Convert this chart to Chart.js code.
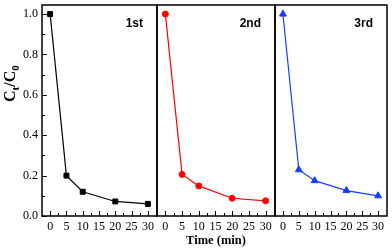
<!DOCTYPE html>
<html><head><meta charset="utf-8">
<script src="https://cdn.jsdelivr.net/npm/chart.js@4/dist/chart.umd.min.js"></script>
<style>
html,body{margin:0;padding:0;background:#fff;overflow:hidden}
#wrap{position:relative;width:392px;height:250px;background:#fff}
canvas{position:absolute;left:0;top:0}
</style></head>
<body>
<div id="wrap">
<canvas id="c1" width="392" height="250"></canvas>
<canvas id="c2" width="392" height="250"></canvas>
<canvas id="c3" width="392" height="250"></canvas>
</div>
<script>
const times = [0, 5, 10, 20, 30];
const run1 = [1.0, 0.200, 0.120, 0.072, 0.060];
const run2 = [1.0, 0.206, 0.149, 0.088, 0.075];
const run3 = [1.0, 0.229, 0.175, 0.126, 0.100];
const runLabels = ['1st', '2nd', '3rd'];
const xTicks = [0, 5, 10, 15, 20, 25, 30];
const yTicks = [0, 0.2, 0.4, 0.6, 0.8, 1.0];
const xTitle = 'Time (min)';

const SERIF = '"Liberation Serif", "Times New Roman", serif';
const SANS = '"Liberation Sans", Arial, sans-serif';

const framePlugin = {
  id: 'frame',
  afterDraw(chart, args, opts) {
    const {ctx, chartArea: a, scales} = chart;
    ctx.save();
    ctx.strokeStyle = '#000';
    ctx.lineWidth = 1.5;
    ctx.strokeRect(a.left, a.top, a.right - a.left, a.bottom - a.top);
    ctx.lineWidth = 1;
    ctx.beginPath();
    const xs = scales.x;
    const xt = xs.ticks.map(t => t.value);
    for (let i = 0; i < xt.length; i++) {
      const px = Math.round(xs.getPixelForValue(xt[i])) + 0.5;
      ctx.moveTo(px, a.bottom); ctx.lineTo(px, a.bottom - 5);
      if (i < xt.length - 1) {
        const pm = Math.round(xs.getPixelForValue((xt[i] + xt[i + 1]) / 2)) + 0.5;
        ctx.moveTo(pm, a.bottom); ctx.lineTo(pm, a.bottom - 3);
      }
    }
    if (opts.yAxis) {
      const ys = scales.y;
      const yt = ys.ticks.map(t => t.value);
      for (let i = 0; i < yt.length; i++) {
        const py = Math.round(ys.getPixelForValue(yt[i])) + 0.5;
        ctx.moveTo(a.left, py); ctx.lineTo(a.left + 5, py);
        if (i < yt.length - 1) {
          const pm = Math.round(ys.getPixelForValue((yt[i] + yt[i + 1]) / 2)) + 0.5;
          ctx.moveTo(a.left, pm); ctx.lineTo(a.left + 3, pm);
        }
      }
    }
    ctx.stroke();
    ctx.fillStyle = '#000';
    ctx.font = 'bold 12px ' + SANS;
    ctx.textAlign = 'right';
    ctx.textBaseline = 'middle';
    ctx.fillText(opts.label, a.right - 14, a.top + 18.5);
    if (opts.yAxis) {
      ctx.save();
      ctx.translate(15, 102);
      ctx.rotate(-Math.PI / 2);
      ctx.textAlign = 'left';
      ctx.textBaseline = 'alphabetic';
      const big = 'bold 16px ' + SERIF, small = 'bold 11px ' + SERIF;
      const parts = [['C', big, 0], ['t', small, 3.5], ['/', big, 0], ['C', big, 0], ['0', small, 3.5]];
      let x = 0;
      for (const [s, f, dy] of parts) {
        ctx.font = f;
        ctx.fillText(s, x, dy);
        x += ctx.measureText(s).width;
      }
      ctx.restore();
    }
    ctx.restore();
  }
};

function makeChart(id, values, color, style, radius, label, pad, showY, showTitle) {
  const yScale = {
    display: showY, min: 0, max: 1.045,
    afterBuildTicks: s => { s.ticks = yTicks.map(v => ({value: v})); },
    grid: {display: false, drawTicks: false},
    border: {display: false},
    ticks: {padding: 4, color: '#000', callback: v => Number(v).toFixed(1),
            font: {family: SERIF, size: 12}}
  };
  if (showY) yScale.afterFit = s => { s.width = 42; s.paddingTop = 0; s.paddingBottom = 0; };
  return new Chart(document.getElementById(id), {
    type: 'line',
    data: {
      datasets: [{
        data: times.map((t, i) => ({x: t, y: values[i]})),
        borderColor: color,
        backgroundColor: color,
        borderWidth: 1.2,
        pointStyle: style,
        pointRadius: radius,
        pointBorderWidth: 1,
        pointBorderColor: color,
        pointBackgroundColor: color,
        tension: 0
      }]
    },
    options: {
      responsive: false,
      animation: false,
      devicePixelRatio: 1,
      layout: {padding: pad},
      plugins: {
        legend: {display: false},
        tooltip: {enabled: false},
        frame: {label: label, yAxis: showY}
      },
      scales: {
        x: {
          type: 'linear', min: -2.5, max: 32.8,
          afterBuildTicks: s => { s.ticks = xTicks.map(v => ({value: v})); },
          afterFit: s => { s.height = 34; s.paddingLeft = 0; s.paddingRight = 0; },
          grid: {display: false, drawTicks: false},
          border: {display: false},
          ticks: {padding: 4, color: '#000', autoSkip: false, maxRotation: 0,
                  font: {family: SERIF, size: 12}},
          title: {display: showTitle, text: xTitle, color: '#000',
                  font: {family: SERIF, size: 12.5, weight: 'bold'},
                  padding: {top: 0, bottom: 1.5}}
        },
        y: yScale
      }
    },
    plugins: [framePlugin]
  });
}

makeChart('c1', run1, '#000000', 'rect', 3.5, runLabels[0], {left: 0, right: 235, top: 3, bottom: 0}, true, false);
makeChart('c2', run2, '#ff0000', 'circle', 3, runLabels[1], {left: 157, right: 117, top: 3, bottom: 0}, false, true);
makeChart('c3', run3, '#1a3cff', 'triangle', 4, runLabels[2], {left: 275, right: 3, top: 3, bottom: 0}, false, false);
</script>
</body></html>
